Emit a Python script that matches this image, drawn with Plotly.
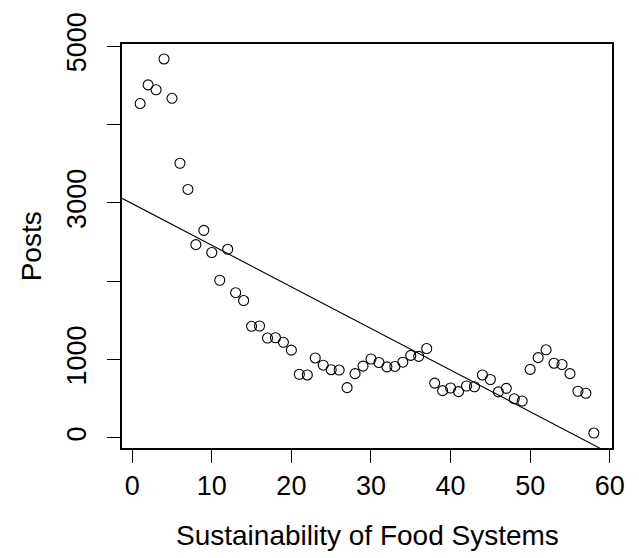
import numpy as np
import plotly.graph_objects as go

# Weekly index along the x axis and number of posts
week = list(range(1, 59))
posts = [
    4268, 4506, 4444, 4837, 4335, 3506, 3172,
    2467, 2650, 2367, 2013, 2408, 1854, 1754,
    1425, 1429, 1275, 1279, 1221, 1121,
    813, 804, 1021, 929, 871, 867, 642,
    821, 917, 1008, 963, 908, 913, 967, 1054, 1042, 1142,
    700, 604, 638, 592, 663, 654, 804, 746, 588, 633, 500, 471,
    875, 1025, 1125, 954, 938, 821, 596, 571, 63,
]

x_ticks = [0, 10, 20, 30, 40, 50, 60]
y_ticks = [0, 1000, 2000, 3000, 4000, 5000]
y_tick_text = ["0", "1000", "", "3000", "", "5000"]

x = np.array(week, dtype=float)
y = np.array(posts, dtype=float)

# R-style axis ranges: data range padded by 4% on each side
def padded(v):
    lo, hi = float(np.min(v)), float(np.max(v))
    d = (hi - lo) * 0.04
    return [lo - d, hi + d]

xr = padded(x)
yr = padded(y)

# Least-squares fit drawn across the full plot width
slope, intercept = np.polyfit(x, y, 1)
fit_x = np.array(xr)
fit_y = intercept + slope * fit_x

FONT = "Liberation Sans, Arial, Helvetica, sans-serif"
TICK_SIZE = 27
TITLE_SIZE = 28

fig = go.Figure()
fig.add_trace(go.Scatter(
    x=week, y=posts, mode="markers",
    marker=dict(symbol="circle-open", size=10, color="black",
                line=dict(width=1.1, color="black")),
    showlegend=False, hoverinfo="x+y",
))
fig.add_trace(go.Scatter(
    x=fit_x, y=fit_y, mode="lines",
    line=dict(color="black", width=1.1),
    showlegend=False, hoverinfo="skip",
))

axis_common = dict(
    showgrid=False, zeroline=False,
    showline=True, mirror=True, linecolor="black", linewidth=1.6,
    ticks="outside", ticklen=13, tickwidth=1.2, tickcolor="black",
    tickfont=dict(family=FONT, size=TICK_SIZE, color="black"),
)

fig.update_xaxes(range=xr, tickmode="array", tickvals=x_ticks,
                 ticktext=[str(t) for t in x_ticks],
                 ticklabelstandoff=0, **axis_common)
fig.update_yaxes(range=yr, tickmode="array", tickvals=y_ticks,
                 ticktext=y_tick_text, tickangle=-90,
                 ticklabelstandoff=10, **axis_common)

fig.update_layout(
    width=639, height=558,
    margin=dict(l=122, r=27, t=37, b=110),
    plot_bgcolor="white", paper_bgcolor="white",
    font=dict(family=FONT, size=TICK_SIZE, color="black"),
    annotations=[
        dict(text="Sustainability of Food Systems", xref="paper", yref="paper",
             x=0.5, y=-0.2165, xanchor="center", yanchor="middle",
             showarrow=False, font=dict(family=FONT, size=TITLE_SIZE, color="black")),
        dict(text="Posts", xref="paper", yref="paper",
             x=-0.185, y=0.5, xanchor="center", yanchor="middle",
             textangle=-90, showarrow=False,
             font=dict(family=FONT, size=TITLE_SIZE, color="black")),
    ],
)

fig.write_html("out.html")
